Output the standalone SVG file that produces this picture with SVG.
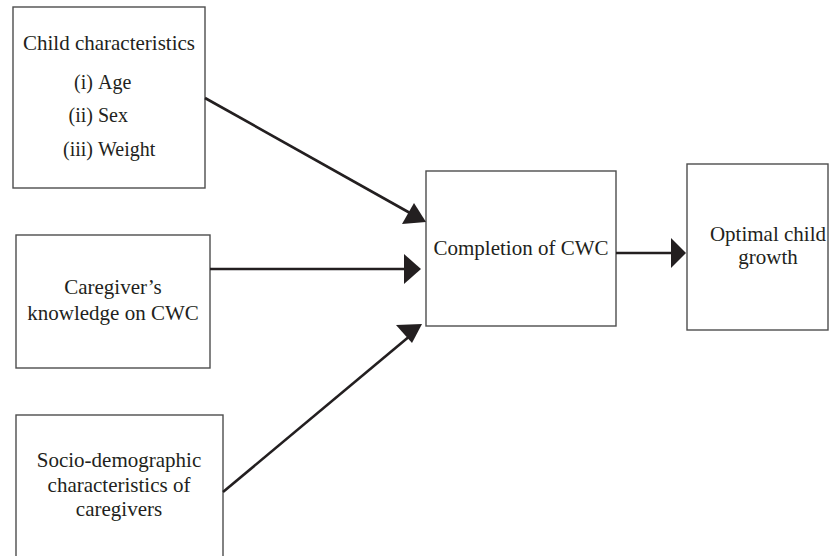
<svg xmlns="http://www.w3.org/2000/svg" width="838" height="556" viewBox="0 0 838 556">
<style>
.box{fill:#fff;stroke:#4d4d4d;stroke-width:1.4}
.t{font-family:"Liberation Serif","Times New Roman",serif;font-size:21px;fill:#231f20}
.c{text-anchor:middle}
.e{text-anchor:end}
.conn{stroke:#231f20;stroke-width:2.6;fill:none}
.head{fill:#231f20}
</style>
<rect width="838" height="556" fill="#fff"/>
<g id="child">
<rect class="box" x="13" y="7" width="192" height="181"/>
<text class="t c" x="109" y="50">Child characteristics</text>
<text class="t e" x="93" y="89" style="font-size:20px">(i)</text>
<text class="t" x="98" y="89" style="font-size:20px">Age</text>
<text class="t e" x="93" y="122" style="font-size:20px">(ii)</text>
<text class="t" x="98" y="122" style="font-size:20px">Sex</text>
<text class="t e" x="93" y="156" style="font-size:20px">(iii)</text>
<text class="t" x="98" y="156" style="font-size:20px">Weight</text>
</g>
<g id="knowledge">
<rect class="box" x="16" y="235" width="194" height="133"/>
<text class="t c" x="113" y="294">Caregiver’s</text>
<text class="t c" x="113" y="320">knowledge on CWC</text>
</g>
<g id="socio">
<rect class="box" x="16" y="415" width="207" height="150"/>
<text class="t c" x="119" y="467">Socio-demographic</text>
<text class="t c" x="119" y="492">characteristics of</text>
<text class="t c" x="119" y="516">caregivers</text>
</g>
<g id="completion">
<rect class="box" x="426" y="171" width="190" height="155"/>
<text class="t c" x="521" y="255">Completion of CWC</text>
</g>
<g id="optimal">
<rect class="box" x="687" y="164" width="141" height="166"/>
<text class="t c" x="768" y="241">Optimal child</text>
<text class="t c" x="768" y="264">growth</text>
</g>
<g id="connectors">
<line class="conn" x1="205" y1="98" x2="410" y2="213"/>
<polygon class="head" points="426,222 402,224 414,203"/>
<line class="conn" x1="210" y1="269" x2="406" y2="269"/>
<polygon class="head" points="421,269 404,254 404,284"/>
<line class="conn" x1="223" y1="492" x2="411" y2="335"/>
<polygon class="head" points="422,324 412,343 396,325"/>
<line class="conn" x1="616" y1="253" x2="673" y2="253"/>
<polygon class="head" points="686,253 671,238 671,268"/>
</g>
</svg>
